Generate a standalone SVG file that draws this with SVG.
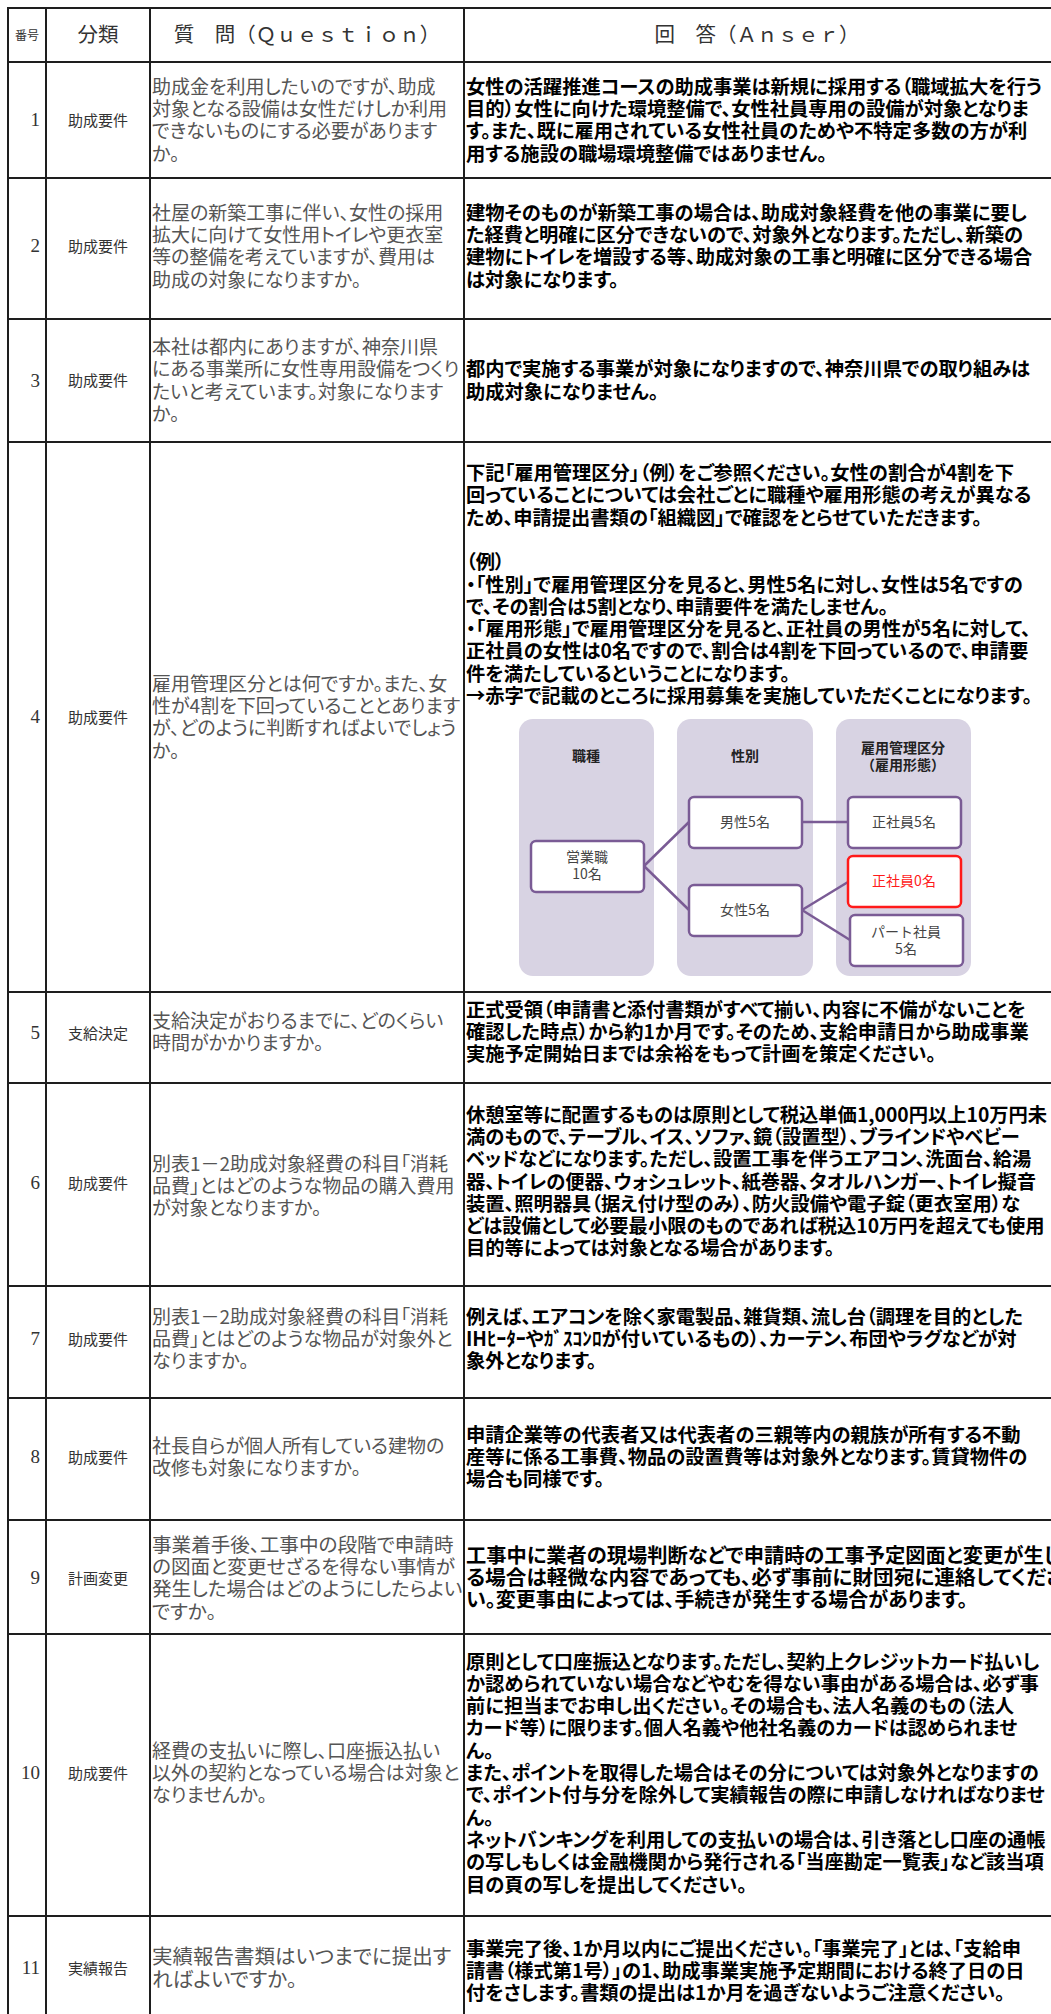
<svg xmlns="http://www.w3.org/2000/svg" width="1051" height="2014" viewBox="0 0 1051 2014">
<style>
.grid line{stroke:#1e1e1e;stroke-width:2}
.q{font-family:"Noto Sans CJK JP","Noto Sans CJK SC",sans-serif;font-size:19px;fill:#555;font-feature-settings:"palt"}
.a{font-family:"Noto Sans CJK JP","Noto Sans CJK SC",sans-serif;font-size:19.3px;font-weight:700;fill:#000;font-feature-settings:"palt"}
.num{font-family:"Liberation Serif","Noto Sans CJK JP",serif;font-size:19px;fill:#333;text-anchor:end}
.cat{font-family:"Noto Sans CJK JP",sans-serif;font-size:15px;fill:#333;text-anchor:middle}
.hd{font-family:"Liberation Serif","Noto Sans CJK JP",serif;fill:#333;text-anchor:middle}
.col{fill:#d8d3e3}
.box{fill:#fff;stroke:#7a5b95;stroke-width:2.5}
.red{stroke:#ff1a1a}
.dh{font-family:"Noto Sans CJK JP",sans-serif;font-size:14px;font-weight:700;fill:#222;text-anchor:middle}
.dt{font-family:"Noto Sans CJK JP",sans-serif;font-size:14px;fill:#444;text-anchor:middle}
.dtr{fill:#ff1a1a}
.conn line{stroke:#7a5b95;stroke-width:2.5}
</style>
<rect width="1051" height="2014" fill="#fff"/>
<g id="grid" class="grid">
<line x1="8" y1="8" x2="1051" y2="8"/>
<line x1="8" y1="62" x2="1051" y2="62"/>
<line x1="8" y1="178" x2="1051" y2="178"/>
<line x1="8" y1="319" x2="1051" y2="319"/>
<line x1="8" y1="442" x2="1051" y2="442"/>
<line x1="8" y1="992" x2="1051" y2="992"/>
<line x1="8" y1="1083" x2="1051" y2="1083"/>
<line x1="8" y1="1286" x2="1051" y2="1286"/>
<line x1="8" y1="1398" x2="1051" y2="1398"/>
<line x1="8" y1="1520" x2="1051" y2="1520"/>
<line x1="8" y1="1634" x2="1051" y2="1634"/>
<line x1="8" y1="1916" x2="1051" y2="1916"/>
<line x1="8" y1="7" x2="8" y2="2014"/>
<line x1="46" y1="8" x2="46" y2="2014"/>
<line x1="150" y1="8" x2="150" y2="2014"/>
<line x1="464" y1="8" x2="464" y2="2014"/>
</g>
<g id="header">
<text class="hd" x="27" y="39.5" font-size="12">番号</text>
<text class="hd" x="98" y="42" font-size="20.5">分類</text>
<text class="hd" x="307" y="42" font-size="20.5">質　問（Ｑｕｅｓｔｉｏｎ）</text>
<text class="hd" x="757" y="42" font-size="20.5">回　答（Ａｎｓｅｒ）</text>
</g>
<g id="row-1">
<text class="num" x="40" y="126.3">1</text>
<text class="cat" x="98" y="125.5">助成要件</text>
<text class="q"><tspan x="152" y="93.5">助成金を利用したいのですが、助成</tspan><tspan x="152" y="116">対象となる設備は女性だけしか利用</tspan><tspan x="152" y="138">できないものにする必要があります</tspan><tspan x="152" y="160.5">か。</tspan></text>
<text class="a"><tspan x="466" y="93.5">女性の活躍推進コースの助成事業は新規に採用する（職域拡大を行う</tspan><tspan x="466" y="116">目的）女性に向けた環境整備で、女性社員専用の設備が対象となりま</tspan><tspan x="466" y="138">す。また、既に雇用されている女性社員のためや不特定多数の方が利</tspan><tspan x="466" y="160.5">用する施設の職場環境整備ではありません。</tspan></text>
</g>
<g id="row-2">
<text class="num" x="40" y="252.3">2</text>
<text class="cat" x="98" y="251.5">助成要件</text>
<text class="q"><tspan x="152" y="219.5">社屋の新築工事に伴い、女性の採用</tspan><tspan x="152" y="241.8">拡大に向けて女性用トイレや更衣室</tspan><tspan x="152" y="264.2">等の整備を考えていますが、費用は</tspan><tspan x="152" y="286.5">助成の対象になりますか。</tspan></text>
<text class="a"><tspan x="466" y="219.5">建物そのものが新築工事の場合は、助成対象経費を他の事業に要し</tspan><tspan x="466" y="241.8">た経費と明確に区分できないので、対象外となります。ただし、新築の</tspan><tspan x="466" y="264.2">建物にトイレを増設する等、助成対象の工事と明確に区分できる場合</tspan><tspan x="466" y="286.5">は対象になります。</tspan></text>
</g>
<g id="row-3">
<text class="num" x="40" y="386.8">3</text>
<text class="cat" x="98" y="386">助成要件</text>
<text class="q"><tspan x="152" y="354">本社は都内にありますが、神奈川県</tspan><tspan x="152" y="376.3">にある事業所に女性専用設備をつくり</tspan><tspan x="152" y="398.7">たいと考えています。対象になります</tspan><tspan x="152" y="421">か。</tspan></text>
<text class="a"><tspan x="466" y="376.3">都内で実施する事業が対象になりますので、神奈川県での取り組みは</tspan><tspan x="466" y="398.7">助成対象になりません。</tspan></text>
</g>
<g id="row-4">
<text class="num" x="40" y="723.3">4</text>
<text class="cat" x="98" y="722.5">助成要件</text>
<text class="q"><tspan x="152" y="690.5">雇用管理区分とは何ですか。また、女</tspan><tspan x="152" y="712.8">性が4割を下回っていることとあります</tspan><tspan x="152" y="735.2">が、どのように判断すればよいでしょう</tspan><tspan x="152" y="757.5">か。</tspan></text>
<text class="a"><tspan x="466" y="480">下記「雇用管理区分」（例）をご参照ください。女性の割合が4割を下</tspan><tspan x="466" y="502.3">回っていることについては会社ごとに職種や雇用形態の考えが異なる</tspan><tspan x="466" y="524.6">ため、申請提出書類の「組織図」で確認をとらせていただきます。</tspan><tspan x="466" y="569.2">（例）</tspan><tspan x="466" y="591.5">・「性別」で雇用管理区分を見ると、男性5名に対し、女性は5名ですの</tspan><tspan x="466" y="613.8">で、その割合は5割となり、申請要件を満たしません。</tspan><tspan x="466" y="636.1">・「雇用形態」で雇用管理区分を見ると、正社員の男性が5名に対して、</tspan><tspan x="466" y="658.4">正社員の女性は0名ですので、割合は4割を下回っているので、申請要</tspan><tspan x="466" y="680.7">件を満たしているということになります。</tspan><tspan x="466" y="703">→赤字で記載のところに採用募集を実施していただくことになります。</tspan></text>
<g id="org-chart">
<rect class="col" x="519" y="719" width="135" height="257" rx="14"/>
<rect class="col" x="677" y="719" width="136" height="257" rx="14"/>
<rect class="col" x="836" y="719" width="135" height="257" rx="14"/>
<text class="dh" x="586" y="761">職種</text>
<text class="dh" x="745" y="761">性別</text>
<text class="dh" x="903" y="753">雇用管理区分</text>
<text class="dh" x="903" y="770">（雇用形態）</text>
<g id="conn" class="conn">
<line x1="644" y1="866" x2="689" y2="822"/>
<line x1="644" y1="866" x2="689" y2="910"/>
<line x1="802" y1="822" x2="848" y2="822"/>
<line x1="802" y1="910" x2="848" y2="882"/>
<line x1="802" y1="910" x2="850" y2="940"/>
</g>
<g id="n-sales"><rect class="box" x="531" y="841" width="113" height="51" rx="5"/><text class="dt" x="587" y="862">営業職</text><text class="dt" x="587" y="879">10名</text></g>
<g id="n-male"><rect class="box" x="689" y="797" width="113" height="51" rx="5"/><text class="dt" x="745" y="827">男性5名</text></g>
<g id="n-female"><rect class="box" x="689" y="885" width="113" height="51" rx="5"/><text class="dt" x="745" y="915">女性5名</text></g>
<g id="n-reg5"><rect class="box" x="848" y="797" width="113" height="51" rx="5"/><text class="dt" x="904" y="827">正社員5名</text></g>
<g id="n-reg0"><rect class="box red" x="848" y="856" width="113" height="51" rx="5"/><text class="dt dtr" x="904" y="886">正社員0名</text></g>
<g id="n-part"><rect class="box" x="850" y="915" width="113" height="51" rx="5"/><text class="dt" x="906" y="937">パート社員</text><text class="dt" x="906" y="954">5名</text></g>
</g>
</g>
<g id="row-5">
<text class="num" x="40" y="1039.3">5</text>
<text class="cat" x="98" y="1038.5">支給決定</text>
<text class="q"><tspan x="152" y="1027.8">支給決定がおりるまでに、どのくらい</tspan><tspan x="152" y="1050.2">時間がかかりますか。</tspan></text>
<text class="a"><tspan x="466" y="1016.7">正式受領（申請書と添付書類がすべて揃い、内容に不備がないことを</tspan><tspan x="466" y="1039">確認した時点）から約1か月です。そのため、支給申請日から助成事業</tspan><tspan x="466" y="1061.3">実施予定開始日までは余裕をもって計画を策定ください。</tspan></text>
</g>
<g id="row-6">
<text class="num" x="40" y="1189.3">6</text>
<text class="cat" x="98" y="1188.5">助成要件</text>
<text class="q"><tspan x="152" y="1170.7">別表1－2助成対象経費の科目「消耗</tspan><tspan x="152" y="1193">品費」とはどのような物品の購入費用</tspan><tspan x="152" y="1215.3">が対象となりますか。</tspan></text>
<text class="a"><tspan x="466" y="1121.6">休憩室等に配置するものは原則として税込単価1,000円以上10万円未</tspan><tspan x="466" y="1143.9">満のもので、テーブル、イス、ソファ、鏡（設置型）、ブラインドやベビー</tspan><tspan x="466" y="1166.2">ベッドなどになります。ただし、設置工事を伴うエアコン、洗面台、給湯</tspan><tspan x="466" y="1188.5">器、トイレの便器、ウォシュレット、紙巻器、タオルハンガー、トイレ擬音</tspan><tspan x="466" y="1210.8">装置、照明器具（据え付け型のみ）、防火設備や電子錠（更衣室用）な</tspan><tspan x="466" y="1233.1">どは設備として必要最小限のものであれば税込10万円を超えても使用</tspan><tspan x="466" y="1255.4">目的等によっては対象となる場合があります。</tspan></text>
</g>
<g id="row-7">
<text class="num" x="40" y="1345.3">7</text>
<text class="cat" x="98" y="1344.5">助成要件</text>
<text class="q"><tspan x="152" y="1323.7">別表1－2助成対象経費の科目「消耗</tspan><tspan x="152" y="1346">品費」とはどのような物品が対象外と</tspan><tspan x="152" y="1368.3">なりますか。</tspan></text>
<text class="a"><tspan x="466" y="1323.7">例えば、エアコンを除く家電製品、雑貨類、流し台（調理を目的とした</tspan><tspan x="466" y="1346">IHﾋｰﾀｰやｶﾞｽｺﾝﾛが付いているもの）、カーテン、布団やラグなどが対</tspan><tspan x="466" y="1368.3">象外となります。</tspan></text>
</g>
<g id="row-8">
<text class="num" x="40" y="1463.3">8</text>
<text class="cat" x="98" y="1462.5">助成要件</text>
<text class="q"><tspan x="152" y="1452.8">社長自らが個人所有している建物の</tspan><tspan x="152" y="1475.2">改修も対象になりますか。</tspan></text>
<text class="a"><tspan x="466" y="1441.7">申請企業等の代表者又は代表者の三親等内の親族が所有する不動</tspan><tspan x="466" y="1464">産等に係る工事費、物品の設置費等は対象外となります。賃貸物件の</tspan><tspan x="466" y="1486.3">場合も同様です。</tspan></text>
</g>
<g id="row-9">
<text class="num" x="40" y="1584.3">9</text>
<text class="cat" x="98" y="1583.5">計画変更</text>
<text class="q" style="font-size:19.6px"><tspan x="152" y="1551.5">事業着手後、工事中の段階で申請時</tspan><tspan x="152" y="1573.8">の図面と変更せざるを得ない事情が</tspan><tspan x="152" y="1596.2">発生した場合はどのようにしたらよい</tspan><tspan x="152" y="1618.5">ですか。</tspan></text>
<text class="a" style="font-size:20px"><tspan x="466" y="1562.7" textLength="596" lengthAdjust="spacingAndGlyphs">工事中に業者の現場判断などで申請時の工事予定図面と変更が生じ</tspan><tspan x="466" y="1585" textLength="598" lengthAdjust="spacingAndGlyphs">る場合は軽微な内容であっても、必ず事前に財団宛に連絡してくださ</tspan><tspan x="466" y="1607.3">い。変更事由によっては、手続きが発生する場合があります。</tspan></text>
</g>
<g id="row-10">
<text class="num" x="40" y="1779.3">10</text>
<text class="cat" x="98" y="1778.5">助成要件</text>
<text class="q"><tspan x="152" y="1757.7">経費の支払いに際し、口座振込払い</tspan><tspan x="152" y="1780">以外の契約となっている場合は対象と</tspan><tspan x="152" y="1802.3">なりませんか。</tspan></text>
<text class="a"><tspan x="466" y="1668.5">原則として口座振込となります。ただし、契約上クレジットカード払いし</tspan><tspan x="466" y="1690.8">か認められていない場合などやむを得ない事由がある場合は、必ず事</tspan><tspan x="466" y="1713.1">前に担当までお申し出ください。その場合も、法人名義のもの（法人</tspan><tspan x="466" y="1735.4">カード等）に限ります。個人名義や他社名義のカードは認められませ</tspan><tspan x="466" y="1757.7">ん。</tspan><tspan x="466" y="1780">また、ポイントを取得した場合はその分については対象外となりますの</tspan><tspan x="466" y="1802.3">で、ポイント付与分を除外して実績報告の際に申請しなければなりませ</tspan><tspan x="466" y="1824.6">ん。</tspan><tspan x="466" y="1846.9">ネットバンキングを利用しての支払いの場合は、引き落とし口座の通帳</tspan><tspan x="466" y="1869.2">の写しもしくは金融機関から発行される「当座勘定一覧表」など該当項</tspan><tspan x="466" y="1891.5">目の頁の写しを提出してください。</tspan></text>
</g>
<g id="row-11">
<text class="num" x="40" y="1974.3">11</text>
<text class="cat" x="98" y="1973.5">実績報告</text>
<text class="q" style="font-size:20.5px"><tspan x="152" y="1964">実績報告書類はいつまでに提出す</tspan><tspan x="152" y="1987">ればよいですか。</tspan></text>
<text class="a"><tspan x="466" y="1955.7">事業完了後、1か月以内にご提出ください。「事業完了」とは、「支給申</tspan><tspan x="466" y="1978">請書（様式第1号）」の1、助成事業実施予定期間における終了日の日</tspan><tspan x="466" y="2000.3">付をさします。書類の提出は1か月を過ぎないようご注意ください。</tspan></text>
</g>
</svg>
